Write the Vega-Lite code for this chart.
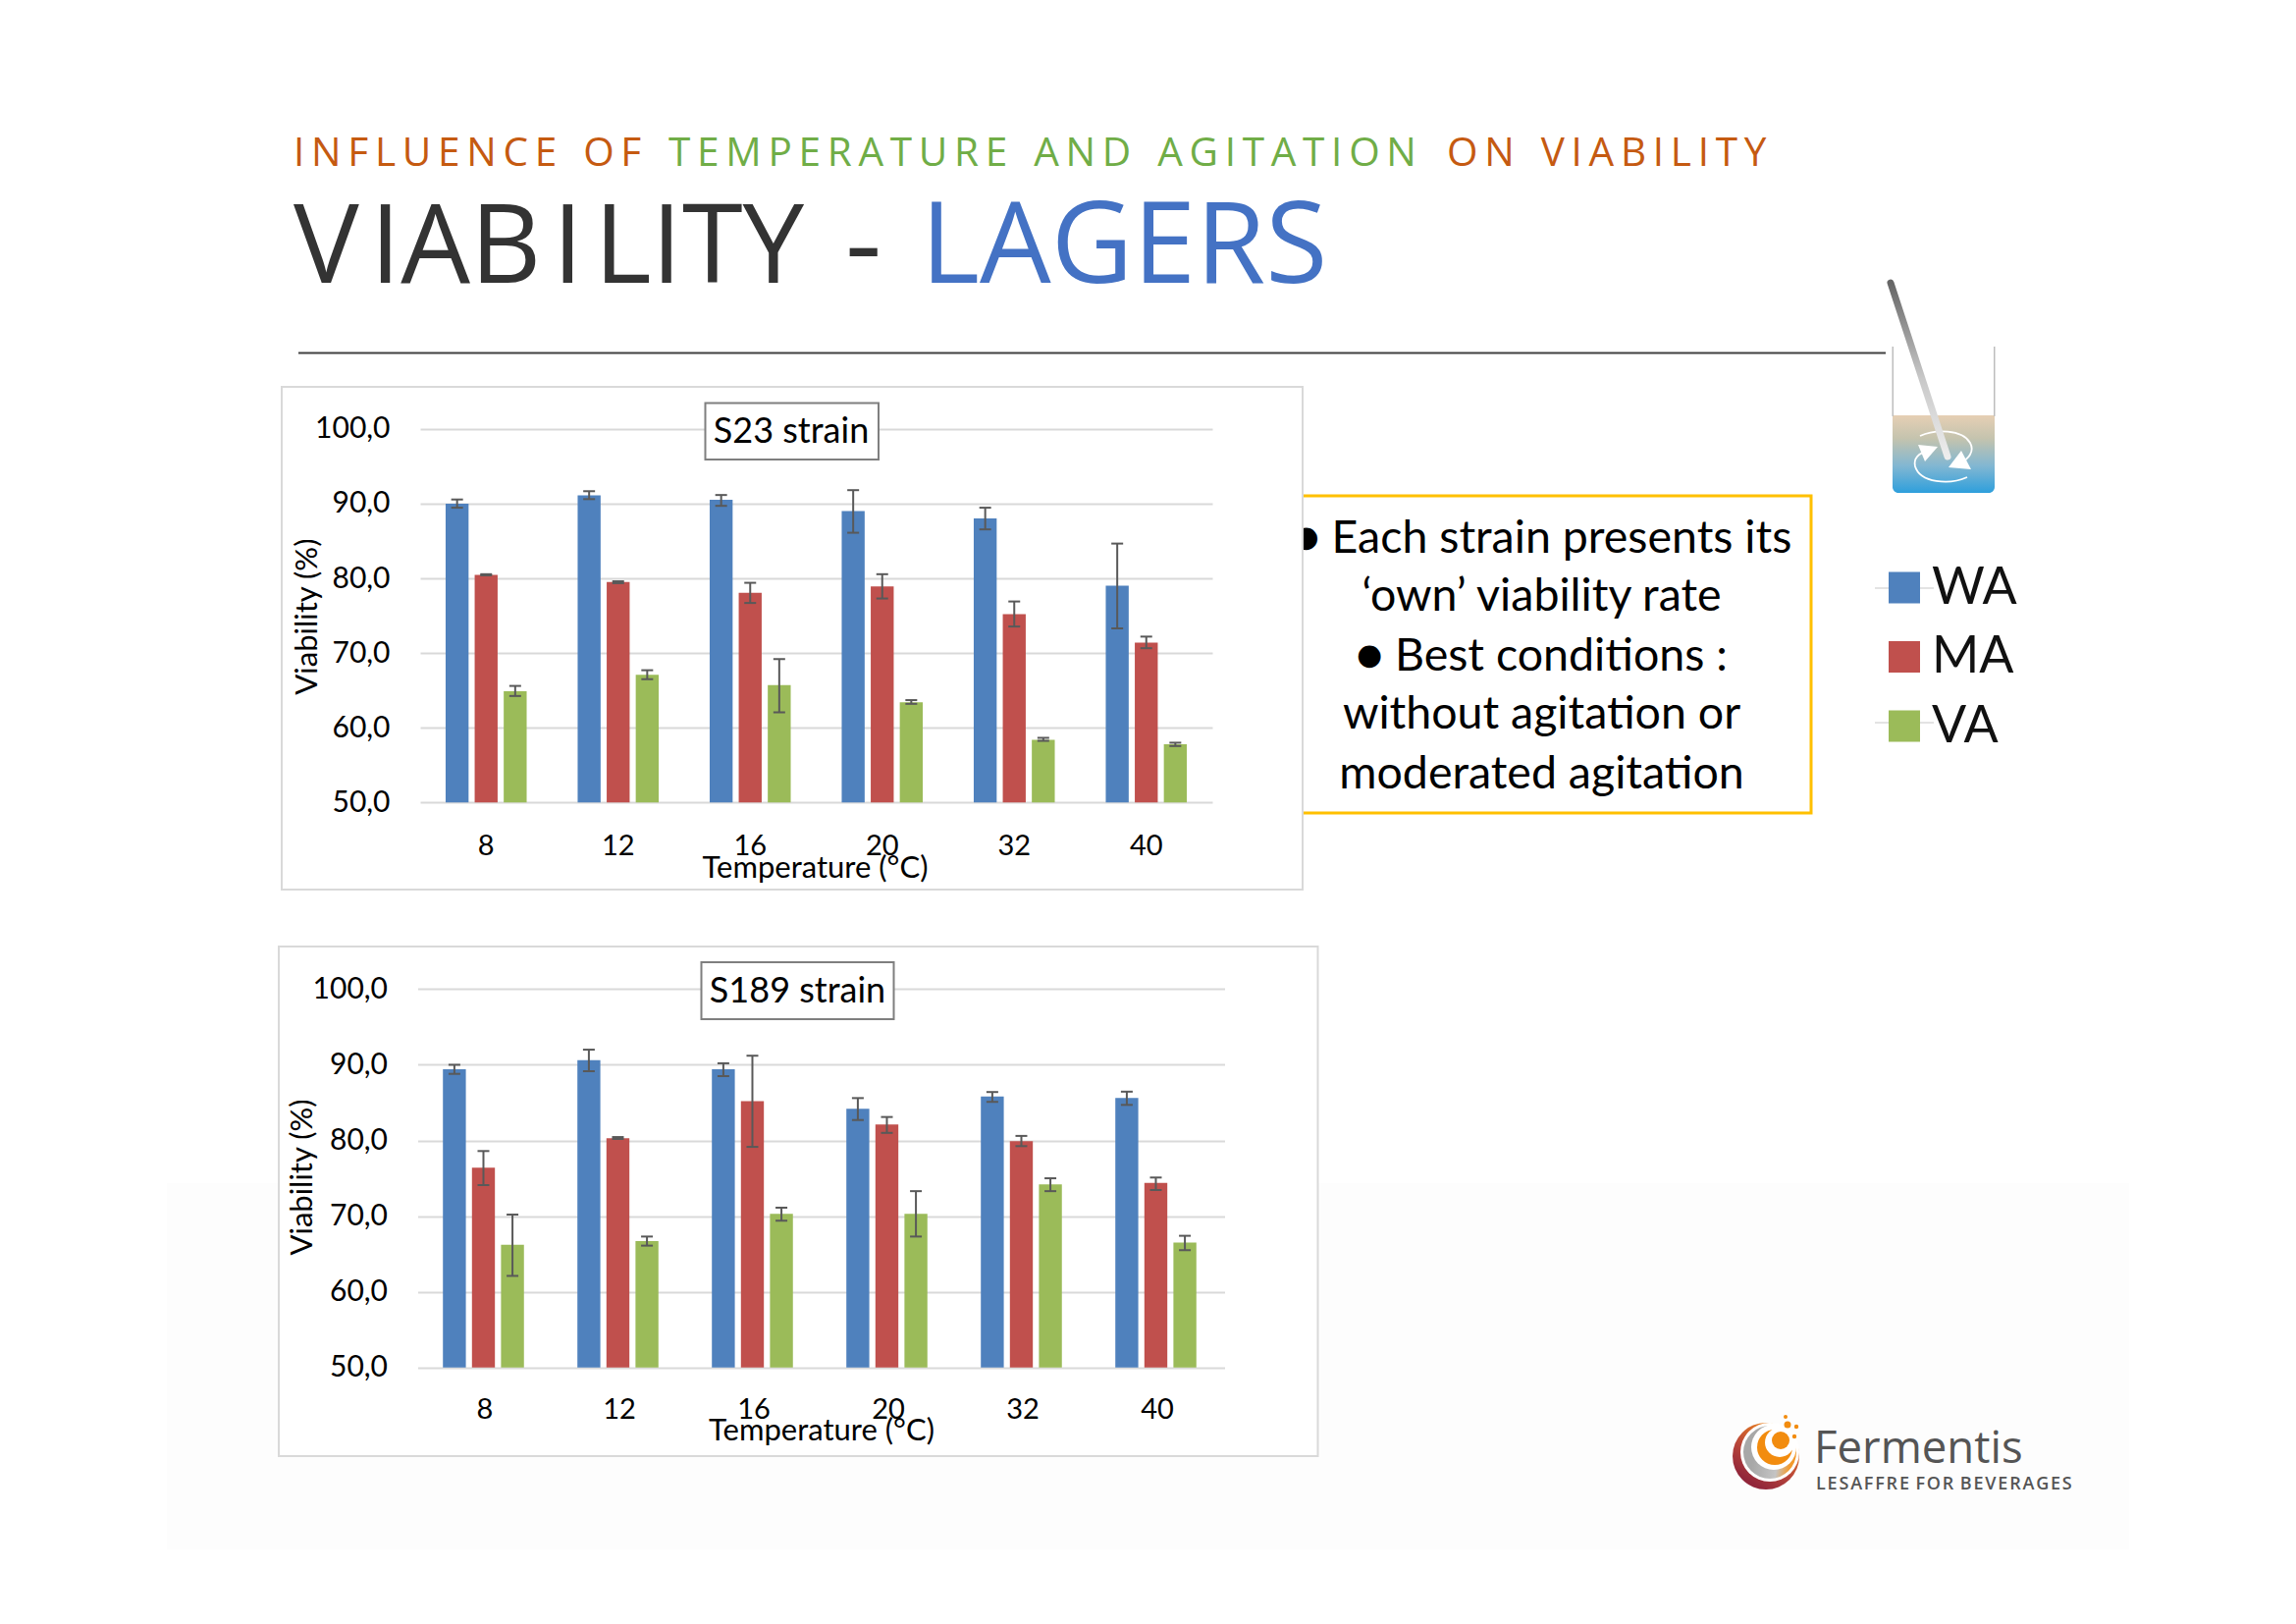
{"$schema":"https://vega.github.io/schema/vega-lite/v6.json","padding":0,"background":"white","autosize":{"type":"pad"},"bounds":"flush","spacing":0,"config":{"font":"Lato","view":{"stroke":null},"concat":{"spacing":0},"text":{"baseline":"alphabetic"}},"datasets":{"s23":[{"temp":"8","series":"WA","viability":90.0,"low":89.45,"high":90.55},{"temp":"8","series":"MA","viability":80.45,"low":80.4,"high":80.55},{"temp":"8","series":"VA","viability":64.9,"low":64.25,"high":65.6},{"temp":"12","series":"WA","viability":91.1,"low":90.6,"high":91.66},{"temp":"12","series":"MA","viability":79.5,"low":79.35,"high":79.6},{"temp":"12","series":"VA","viability":67.1,"low":66.5,"high":67.7},{"temp":"16","series":"WA","viability":90.5,"low":89.7,"high":91.15},{"temp":"16","series":"MA","viability":78.05,"low":76.7,"high":79.4},{"temp":"16","series":"VA","viability":65.7,"low":62.05,"high":69.2},{"temp":"20","series":"WA","viability":89.0,"low":86.1,"high":91.8},{"temp":"20","series":"MA","viability":78.9,"low":77.3,"high":80.55},{"temp":"20","series":"VA","viability":63.4,"low":63.2,"high":63.7},{"temp":"32","series":"WA","viability":88.0,"low":86.55,"high":89.45},{"temp":"32","series":"MA","viability":75.2,"low":73.55,"high":76.9},{"temp":"32","series":"VA","viability":58.4,"low":58.25,"high":58.65},{"temp":"40","series":"WA","viability":79.0,"low":73.3,"high":84.65},{"temp":"40","series":"MA","viability":71.4,"low":70.65,"high":72.2},{"temp":"40","series":"VA","viability":57.8,"low":57.55,"high":58.0}],"s189":[{"temp":"8","series":"WA","viability":89.4,"low":88.8,"high":90.0},{"temp":"8","series":"MA","viability":76.4,"low":74.1,"high":78.6},{"temp":"8","series":"VA","viability":66.2,"low":62.1,"high":70.2},{"temp":"12","series":"WA","viability":90.6,"low":89.15,"high":92.0},{"temp":"12","series":"MA","viability":80.3,"low":80.2,"high":80.45},{"temp":"12","series":"VA","viability":66.7,"low":66.1,"high":67.3},{"temp":"16","series":"WA","viability":89.4,"low":88.5,"high":90.2},{"temp":"16","series":"MA","viability":85.2,"low":79.15,"high":91.2},{"temp":"16","series":"VA","viability":70.3,"low":69.4,"high":71.1},{"temp":"20","series":"WA","viability":84.2,"low":82.7,"high":85.6},{"temp":"20","series":"MA","viability":82.1,"low":81.0,"high":83.1},{"temp":"20","series":"VA","viability":70.3,"low":67.3,"high":73.3},{"temp":"32","series":"WA","viability":85.8,"low":85.1,"high":86.4},{"temp":"32","series":"MA","viability":79.9,"low":79.25,"high":80.6},{"temp":"32","series":"VA","viability":74.2,"low":73.3,"high":75.0},{"temp":"40","series":"WA","viability":85.6,"low":84.7,"high":86.45},{"temp":"40","series":"MA","viability":74.4,"low":73.45,"high":75.1},{"temp":"40","series":"VA","viability":66.5,"low":65.5,"high":67.4}]},"resolve":{"scale":{"color":"independent"},"legend":{"color":"independent"}},"vconcat":[{"width":2339,"height":394,"data":{"values":[{"label":""}]},"layer":[{"mark":{"type":"rect","x":169,"x2":2168,"y":1205,"y2":1578,"fill":"#FDFDFD"},"encoding":{}},{"data":{"values":[{"label":"I\u2009N\u2009F\u2009L\u2009U\u2009E\u2009N\u2009C\u2009E\u2009\u2002O\u2009F"}]},"mark":{"type":"text","x":298,"y":169,"align":"left","font":"Open Sans","fontSize":40.5,"fill":"#C55A11"},"encoding":{"text":{"field":"label"}}},{"data":{"values":[{"label":"T\u2009E\u2009M\u2009P\u2009E\u2009R\u2009A\u2009T\u2009U\u2009R\u2009E\u2009\u2002A\u2009N\u2009D\u2009\u2002A\u2009G\u2009I\u2009T\u2009A\u2009T\u2009I\u2009O\u2009N"}]},"mark":{"type":"text","x":680,"y":169,"align":"left","font":"Open Sans","fontSize":40.5,"fill":"#70AD47"},"encoding":{"text":{"field":"label"}}},{"data":{"values":[{"label":"O\u2009N\u2009\u2002V\u2009I\u2009A\u2009B\u2009I\u2009L\u2009I\u2009T\u2009Y"}]},"mark":{"type":"text","x":1473,"y":169,"align":"left","font":"Open Sans","fontSize":40.5,"fill":"#C55A11"},"encoding":{"text":{"field":"label"}}},{"data":{"values":[{"label":"V\u200aIAB\u200aI\u200aLITY"}]},"mark":{"type":"text","x":298,"y":288,"align":"left","font":"Open Sans","fontSize":112,"fill":"#333333"},"encoding":{"text":{"field":"label"}}},{"data":{"values":[{"label":"-"}]},"mark":{"type":"text","x":860,"y":288,"align":"left","font":"Open Sans","fontSize":116,"fill":"#333333"},"encoding":{"text":{"field":"label"}}},{"data":{"values":[{"label":"LAGERS"}]},"mark":{"type":"text","x":937,"y":288,"align":"left","font":"Open Sans","fontSize":115,"fill":"#4472C4"},"encoding":{"text":{"field":"label"}}},{"mark":{"type":"rect","x":303,"x2":1920,"y":358.5,"y2":360.5,"fill":"#404040"},"encoding":{}},{"mark":{"type":"rect","x":1927,"x2":2031,"y":423,"y2":502,"cornerRadiusBottomLeft":6,"cornerRadiusBottomRight":6,"fill":{"gradient":"linear","x1":0,"y1":0,"x2":0,"y2":1,"stops":[{"offset":0,"color":"#E6CFB4"},{"offset":0.3,"color":"#C4C3AE"},{"offset":0.65,"color":"#82B7D2"},{"offset":1,"color":"#2E9FDC"}]}},"encoding":{}},{"mark":{"type":"rect","x":1926.5,"x2":1928,"y":353,"y2":424,"fill":"#BDBDBD"},"encoding":{}},{"mark":{"type":"rect","x":2030,"x2":2031.5,"y":353,"y2":424,"fill":"#BDBDBD"},"encoding":{}},{"mark":{"type":"point","x":1980,"y":465,"size":4,"filled":false,"opacity":1,"stroke":"#FFFFFF","strokeWidth":1.8,"shape":"M -25 -21 C -10 -28 18 -28 26 -14 C 31 -5 24 3 16 6 M 23 21 C 5 29 -25 27 -30 10 C -32 2 -26 -4 -18 -5"},"encoding":{}},{"mark":{"type":"point","x":1980,"y":465,"size":4,"filled":true,"opacity":1,"fill":"#FFFFFF","strokeWidth":0,"shape":"M -7 -10 L -27 -12 L -20 5 Z M 17 -6 L 4 11 L 27 13 Z"},"encoding":{}},{"mark":{"type":"point","x":1925,"y":288,"size":4,"filled":false,"opacity":1,"strokeWidth":7,"strokeCap":"round","shape":"M 0 0 L 58 177","stroke":{"gradient":"linear","x1":0,"y1":0,"x2":0,"y2":1,"stops":[{"offset":0,"color":"#666666"},{"offset":0.55,"color":"#C8C8C8"},{"offset":1,"color":"#EDEDED"}]}},"encoding":{}},{"mark":{"type":"rect","x":1325.5,"x2":1844,"y":505,"y2":828,"fill":"#FFFFFF","stroke":"#FFC000","strokeWidth":3},"encoding":{}},{"data":{"values":[{"label":"\u25cf Each strain presents its"}]},"mark":{"type":"text","x":1570,"y":563,"align":"center","fontSize":46.5,"fill":"#000000"},"encoding":{"text":{"field":"label"}}},{"data":{"values":[{"label":"\u2018own\u2019 viability rate"}]},"mark":{"type":"text","x":1569.5,"y":622,"align":"center","fontSize":46.5,"fill":"#000000"},"encoding":{"text":{"field":"label"}}},{"data":{"values":[{"label":"\u25cf Best conditions :"}]},"mark":{"type":"text","x":1569.5,"y":682.5,"align":"center","fontSize":46.5,"fill":"#000000"},"encoding":{"text":{"field":"label"}}},{"data":{"values":[{"label":"without agitation or"}]},"mark":{"type":"text","x":1569.5,"y":742,"align":"center","fontSize":46.5,"fill":"#000000"},"encoding":{"text":{"field":"label"}}},{"data":{"values":[{"label":"moderated agitation"}]},"mark":{"type":"text","x":1569.5,"y":802.5,"align":"center","fontSize":46.5,"fill":"#000000"},"encoding":{"text":{"field":"label"}}},{"mark":{"type":"rect","x":1909,"x2":1969,"y":598,"y2":600,"fill":"#E3E3E3"},"encoding":{}},{"mark":{"type":"rect","x":1909,"x2":1969,"y":735,"y2":737,"fill":"#E3E3E3"},"encoding":{}},{"mark":{"type":"arc","x":1798,"y":1483,"outerRadius":34,"fill":{"gradient":"linear","x1":0.8,"y1":0.1,"x2":0.3,"y2":0.9,"stops":[{"offset":0,"color":"#F08A1C"},{"offset":0.6,"color":"#B8453A"},{"offset":1,"color":"#92263A"}]}},"encoding":{}},{"mark":{"type":"arc","x":1802,"y":1479,"outerRadius":30,"fill":"#FFFFFF"},"encoding":{}},{"mark":{"type":"arc","x":1802,"y":1479,"outerRadius":27,"fill":{"gradient":"linear","x1":0.9,"y1":0.6,"x2":0.2,"y2":0.5,"stops":[{"offset":0,"color":"#F39A2D"},{"offset":0.35,"color":"#C4C4C4"},{"offset":1,"color":"#A8A8A8"}]}},"encoding":{}},{"mark":{"type":"arc","x":1806,"y":1474,"outerRadius":23,"fill":"#FFFFFF"},"encoding":{}},{"mark":{"type":"arc","x":1807,"y":1474,"outerRadius":18,"fill":"#F28C0F"},"encoding":{}},{"mark":{"type":"arc","x":1812,"y":1469,"outerRadius":15,"fill":"#FFFFFF"},"encoding":{}},{"mark":{"type":"arc","x":1813,"y":1467,"outerRadius":9,"fill":"#F28C0F"},"encoding":{}},{"mark":{"type":"arc","x":1820,"y":1451,"outerRadius":3.5,"fill":"#F28C0F"},"encoding":{}},{"mark":{"type":"arc","x":1829,"y":1453,"outerRadius":2.2,"fill":"#F28C0F"},"encoding":{}},{"mark":{"type":"arc","x":1827,"y":1463,"outerRadius":2.2,"fill":"#F28C0F"},"encoding":{}},{"mark":{"type":"arc","x":1818,"y":1443,"outerRadius":2,"fill":"#F28C0F"},"encoding":{}},{"data":{"values":[{"label":"Fermentis"}]},"mark":{"type":"text","x":1847,"y":1490,"align":"left","font":"Open Sans","fontSize":45.5,"fontWeight":500,"fill":"#555555"},"encoding":{"text":{"field":"label"}}},{"data":{"values":[{"label":"L\u200aE\u200aS\u200aA\u200aF\u200aF\u200aR\u200aE\u200a F\u200aO\u200aR\u200a B\u200aE\u200aV\u200aE\u200aR\u200aA\u200aG\u200aE\u200aS"}]},"mark":{"type":"text","x":1849,"y":1517,"align":"left","font":"Open Sans","fontSize":18,"fontWeight":600,"fill":"#555555"},"encoding":{"text":{"field":"label"}}}]},{"spacing":56,"resolve":{"scale":{"color":"independent"},"legend":{"color":"independent"}},"vconcat":[{"resolve":{"scale":{"color":"independent"},"legend":{"color":"independent"}},"hconcat":[{"width":284.5,"height":1,"data":{"values":[{"label":""}]},"mark":{"type":"rule","opacity":0},"encoding":{}},{"width":1040,"height":512,"view":{"stroke":"#D9D9D9","strokeWidth":2,"fill":"#FFFFFF"},"layer":[{"data":{"name":"s23"},"mark":{"type":"bar"},"encoding":{"x":{"field":"temp","type":"nominal","sort":["8","12","16","20","32","40"],"scale":{"range":[141,948],"paddingInner":0.34,"paddingOuter":0.17},"axis":{"title":"Temperature (\u00b0C)","offset":-88.7,"labelAngle":0,"labelFont":"Lato","labelFontSize":29,"labelColor":"#000000","labelBaseline":"alphabetic","labelPadding":53,"ticks":false,"domain":false,"grid":false,"titleFont":"Lato","titleFontSize":31,"titleFontWeight":"normal","titleColor":"#000000","titleX":543,"titleY":76,"titleBaseline":"alphabetic"}},"xOffset":{"field":"series","type":"nominal","sort":["WA","MA","VA"],"scale":{"paddingInner":0.21,"paddingOuter":0.105}},"y":{"field":"viability","type":"quantitative","scale":{"domain":[50,100],"range":[423.3,42.8],"nice":false,"zero":false},"axis":{"title":"Viability (%)","offset":-141,"values":[50,60,70,80,90,100],"labelExpr":"replace(format(datum.value,'.1f'),'.',',')","labelFont":"Lato","labelFontSize":30,"labelColor":"#000000","labelPadding":31,"ticks":false,"domain":false,"grid":true,"gridColor":"#D9D9D9","gridWidth":2,"titleFont":"Lato","titleFontSize":31,"titleFontWeight":"normal","titleColor":"#000000","titleX":-105.5,"titleY":233.6,"titleBaseline":"alphabetic"}},"y2":{"datum":50},"color":{"field":"series","type":"nominal","sort":["WA","MA","VA"],"scale":{"domain":["WA","MA","VA"],"range":["#4F81BD","#C0504D","#9BBB59"]},"legend":{"title":null,"orient":"none","legendX":1627,"legendY":178.5,"symbolType":"square","symbolSize":1024,"symbolStrokeWidth":0,"labelFont":"Lato","labelFontSize":52,"labelColor":"#111111","labelOffset":2,"rowPadding":18.5}}}},{"data":{"name":"s23"},"mark":{"type":"rule","stroke":"#595959","strokeWidth":2},"encoding":{"x":{"field":"temp","type":"nominal","sort":["8","12","16","20","32","40"]},"xOffset":{"field":"series","type":"nominal","sort":["WA","MA","VA"]},"y":{"field":"low","type":"quantitative"},"y2":{"field":"high"}}},{"data":{"name":"s23"},"mark":{"type":"tick","orient":"horizontal","color":"#595959","size":12,"thickness":2,"opacity":1},"encoding":{"x":{"field":"temp","type":"nominal","sort":["8","12","16","20","32","40"]},"xOffset":{"field":"series","type":"nominal","sort":["WA","MA","VA"]},"y":{"field":"low","type":"quantitative"}}},{"data":{"name":"s23"},"mark":{"type":"tick","orient":"horizontal","color":"#595959","size":12,"thickness":2,"opacity":1},"encoding":{"x":{"field":"temp","type":"nominal","sort":["8","12","16","20","32","40"]},"xOffset":{"field":"series","type":"nominal","sort":["WA","MA","VA"]},"y":{"field":"high","type":"quantitative"}}},{"data":{"values":[{"label":"S23 strain"}]},"mark":{"type":"rect","x":431.5,"x2":608,"y":16.5,"y2":74,"fill":"#FFFFFF","stroke":"#7F7F7F","strokeWidth":2},"encoding":{}},{"data":{"values":[{"label":"S23 strain"}]},"mark":{"type":"text","x":519,"y":57,"align":"center","fontSize":36,"fill":"#000000"},"encoding":{"text":{"field":"label"}}}]}]},{"resolve":{"scale":{"color":"independent"},"legend":{"color":"independent"}},"hconcat":[{"width":281.5,"height":1,"data":{"values":[{"label":""}]},"mark":{"type":"rule","opacity":0},"encoding":{}},{"width":1058.5,"height":519,"view":{"stroke":"#D9D9D9","strokeWidth":2,"fill":"#FFFFFF"},"layer":[{"data":{"name":"s189"},"mark":{"type":"bar"},"encoding":{"x":{"field":"temp","type":"nominal","sort":["8","12","16","20","32","40"],"scale":{"range":[141.5,963.5],"paddingInner":0.33,"paddingOuter":0.165},"axis":{"title":"Temperature (\u00b0C)","offset":-91.8,"labelAngle":0,"labelFont":"Lato","labelFontSize":29,"labelColor":"#000000","labelBaseline":"alphabetic","labelPadding":53,"ticks":false,"domain":false,"grid":false,"titleFont":"Lato","titleFontSize":31,"titleFontWeight":"normal","titleColor":"#000000","titleX":552.5,"titleY":75.5,"titleBaseline":"alphabetic"}},"xOffset":{"field":"series","type":"nominal","sort":["WA","MA","VA"],"scale":{"paddingInner":0.2,"paddingOuter":0.1}},"y":{"field":"viability","type":"quantitative","scale":{"domain":[50,100],"range":[428.7,43.4],"nice":false,"zero":false},"axis":{"title":"Viability (%)","offset":-141.5,"values":[50,60,70,80,90,100],"labelExpr":"replace(format(datum.value,'.1f'),'.',',')","labelFont":"Lato","labelFontSize":30,"labelColor":"#000000","labelPadding":31,"ticks":false,"domain":false,"grid":true,"gridColor":"#D9D9D9","gridWidth":2,"titleFont":"Lato","titleFontSize":31,"titleFontWeight":"normal","titleColor":"#000000","titleX":-108.5,"titleY":234.5,"titleBaseline":"alphabetic"}},"y2":{"datum":50},"color":{"field":"series","type":"nominal","sort":["WA","MA","VA"],"scale":{"domain":["WA","MA","VA"],"range":["#4F81BD","#C0504D","#9BBB59"]},"legend":null}}},{"data":{"name":"s189"},"mark":{"type":"rule","stroke":"#595959","strokeWidth":2},"encoding":{"x":{"field":"temp","type":"nominal","sort":["8","12","16","20","32","40"]},"xOffset":{"field":"series","type":"nominal","sort":["WA","MA","VA"]},"y":{"field":"low","type":"quantitative"},"y2":{"field":"high"}}},{"data":{"name":"s189"},"mark":{"type":"tick","orient":"horizontal","color":"#595959","size":12,"thickness":2,"opacity":1},"encoding":{"x":{"field":"temp","type":"nominal","sort":["8","12","16","20","32","40"]},"xOffset":{"field":"series","type":"nominal","sort":["WA","MA","VA"]},"y":{"field":"low","type":"quantitative"}}},{"data":{"name":"s189"},"mark":{"type":"tick","orient":"horizontal","color":"#595959","size":12,"thickness":2,"opacity":1},"encoding":{"x":{"field":"temp","type":"nominal","sort":["8","12","16","20","32","40"]},"xOffset":{"field":"series","type":"nominal","sort":["WA","MA","VA"]},"y":{"field":"high","type":"quantitative"}}},{"data":{"values":[{"label":"S189 strain"}]},"mark":{"type":"rect","x":430.5,"x2":626.5,"y":16,"y2":74,"fill":"#FFFFFF","stroke":"#7F7F7F","strokeWidth":2},"encoding":{}},{"data":{"values":[{"label":"S189 strain"}]},"mark":{"type":"text","x":528.5,"y":57,"align":"center","fontSize":36,"fill":"#000000"},"encoding":{"text":{"field":"label"}}}]}]}]}]}
